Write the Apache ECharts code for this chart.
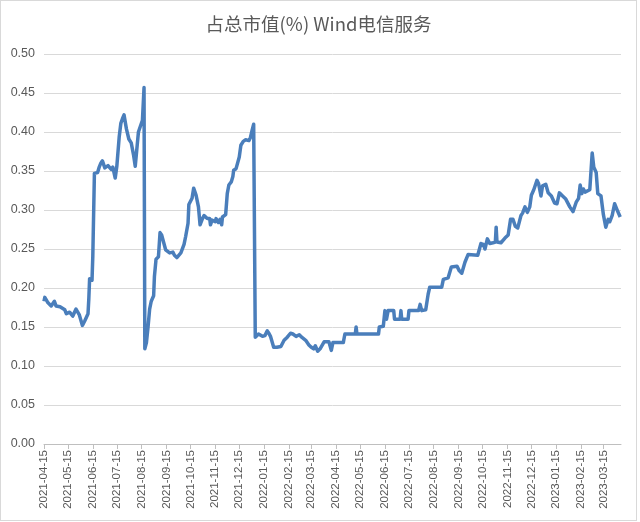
<!DOCTYPE html>
<html>
<head>
<meta charset="utf-8">
<script src="https://cdn.jsdelivr.net/npm/echarts@6/dist/echarts.min.js"></script>
<style>
    html, body { margin: 0; padding: 0; background: #fff; }
    #main { position: absolute; left: 0; top: 0; width: 635px; height: 519px; border: 1px solid #d9d9d9; }
</style>
</head>
<body>
<div id="main"></div>
<script>
// first day of the axis and number of calendar days shown
var startDate = '2021-04-15';
var dayCount = 722;

// days after 2021-04-15 and the share (%)
var dayIdx = [
    0, 1, 3, 5, 9, 13, 15, 20, 26, 28, 32, 36, 40, 44, 48, 51, 55, 56, 57, 60,
    61, 63, 67, 69, 71, 73, 76, 80, 84, 86, 89, 91, 94, 96, 98, 100, 102, 103, 106, 109,
    112, 114, 116, 118, 123, 125, 126, 128, 130, 132, 134, 137, 138, 140, 143, 145, 147, 149, 152, 157,
    161, 163, 166, 168, 171, 175, 177, 180, 181, 185, 187, 190, 193, 195, 198, 200, 204, 207, 208, 210,
    214, 215, 218, 220, 222, 223, 225, 227, 229, 231, 234, 236, 237, 240, 244, 246, 249, 252, 256, 258,
    260, 262, 264, 268, 273, 276, 279, 281, 283, 287, 291, 296, 300, 304, 308, 311, 315, 319, 322, 327,
    331, 334, 337, 339, 342, 345, 350, 356, 358, 359, 361, 374, 376, 389, 390, 391, 418, 419, 424, 426,
    428, 430, 437, 438, 445, 446, 447, 455, 456, 468, 470, 472, 477, 480, 482, 497, 499, 505, 509, 516,
    519, 522, 526, 530, 542, 546, 549, 551, 554, 557, 561, 564, 565, 566, 571, 576, 580, 583, 586, 589,
    592, 596, 598, 601, 604, 607, 609, 612, 616, 618, 621, 623, 627, 630, 634, 638, 641, 644, 648, 652,
    657, 661, 665, 668, 670, 672, 674, 676, 682, 685, 687, 690, 692, 696, 699, 702, 705, 707, 710, 713,
    717, 720
];
var share = [
    0.183, 0.188, 0.189, 0.181, 0.177, 0.183, 0.177, 0.176, 0.172, 0.167, 0.169, 0.164, 0.173, 0.166, 0.152, 0.158, 0.167, 0.186, 0.212, 0.210,
    0.241, 0.347, 0.348, 0.355, 0.360, 0.363, 0.354, 0.357, 0.352, 0.355, 0.341, 0.356, 0.394, 0.411, 0.417, 0.422, 0.421, 0.404, 0.391, 0.386,
    0.370, 0.356, 0.357, 0.400, 0.415, 0.457, 0.122, 0.130, 0.150, 0.173, 0.183, 0.190, 0.215, 0.237, 0.240, 0.271, 0.268, 0.270, 0.249, 0.245,
    0.246, 0.242, 0.239, 0.238, 0.245, 0.256, 0.266, 0.283, 0.307, 0.315, 0.328, 0.319, 0.304, 0.281, 0.289, 0.293, 0.289, 0.289, 0.281, 0.287,
    0.285, 0.289, 0.284, 0.288, 0.281, 0.291, 0.293, 0.294, 0.321, 0.332, 0.336, 0.343, 0.351, 0.353, 0.368, 0.383, 0.388, 0.390, 0.389, 0.393,
    0.402, 0.410, 0.137, 0.141, 0.138, 0.139, 0.145, 0.142, 0.138, 0.124, 0.124, 0.125, 0.133, 0.137, 0.142, 0.141, 0.138, 0.140, 0.137, 0.133,
    0.127, 0.124, 0.122, 0.126, 0.119, 0.122, 0.131, 0.131, 0.130, 0.120, 0.130, 0.130, 0.141, 0.141, 0.150, 0.141, 0.141, 0.150, 0.151, 0.171,
    0.160, 0.171, 0.171, 0.160, 0.160, 0.171, 0.160, 0.160, 0.171, 0.171, 0.179, 0.171, 0.172, 0.192, 0.201, 0.201, 0.211, 0.213, 0.227, 0.228,
    0.222, 0.219, 0.233, 0.243, 0.242, 0.257, 0.256, 0.250, 0.263, 0.257, 0.258, 0.259, 0.278, 0.259, 0.258, 0.264, 0.268, 0.288, 0.288, 0.279,
    0.277, 0.293, 0.296, 0.304, 0.297, 0.304, 0.319, 0.326, 0.338, 0.334, 0.318, 0.331, 0.333, 0.322, 0.318, 0.309, 0.308, 0.322, 0.318, 0.314,
    0.304, 0.298, 0.310, 0.315, 0.332, 0.321, 0.327, 0.323, 0.326, 0.373, 0.355, 0.348, 0.321, 0.318, 0.294, 0.278, 0.288, 0.285, 0.293, 0.308,
    0.298, 0.291
];

function pad(n) {
    return n < 10 ? '0' + n : '' + n;
}

// one category per calendar day, labelled yyyy-mm-dd
var days = new Array();
var d0 = new Date(startDate + 'T00:00:00Z');
for (var i = 0; i < dayCount; i++) {
    var d = new Date(d0.getTime() + i * 86400000);
    days.push(d.getUTCFullYear() + '-' + pad(d.getUTCMonth() + 1) + '-' + pad(d.getUTCDate()));
}

var lineData = new Array();
for (var j = 0; j < dayIdx.length; j++) {
    lineData.push([dayIdx[j], share[j]]);
}

// only the 15th of each month gets a tick and a label
function isMid(idx, value) {
    return days[idx].slice(8) === '15';
}

var myChart = echarts.init(document.getElementById('main'));
var option = {
    animation: false,
    title: {
        text: '占总市值(%) Wind电信服务',
        left: 'center',
        top: 9,
        textStyle: {
            fontFamily: 'Noto Sans CJK SC',
            fontWeight: 'normal',
            fontSize: 18.5,
            color: '#595959'
        }
    },
    grid: {
        left: 43,
        right: 15,
        top: 53,
        bottom: 76
    },
    xAxis: {
        type: 'category',
        data: days,
        boundaryGap: false,
        axisLine: {
            lineStyle: { color: '#bfbfbf' }
        },
        axisTick: {
            interval: isMid,
            length: 5,
            lineStyle: { color: '#bfbfbf' }
        },
        axisLabel: {
            interval: isMid,
            rotate: 90,
            margin: 6,
            fontFamily: 'Liberation Sans',
            fontSize: 11.5,
            color: '#595959'
        },
        splitLine: { show: false }
    },
    yAxis: {
        type: 'value',
        min: 0,
        max: 0.5,
        interval: 0.05,
        axisLine: { show: false },
        axisTick: { show: false },
        axisLabel: {
            margin: 9,
            fontFamily: 'Liberation Sans',
            fontSize: 12.5,
            color: '#595959',
            formatter: function (v) {
                return v.toFixed(2);
            }
        },
        splitLine: {
            lineStyle: { color: '#d9d9d9', width: 1 }
        }
    },
    series: [{
        name: '占总市值',
        type: 'line',
        data: lineData,
        showSymbol: false,
        lineStyle: {
            color: '#4a7ebb',
            width: 3.5,
            join: 'round'
        }
    }]
};
myChart.setOption(option);
</script>
</body>
</html>
